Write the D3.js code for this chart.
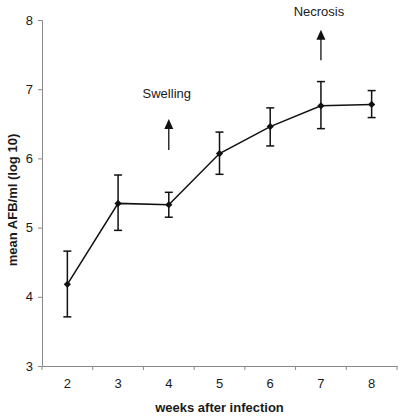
<!DOCTYPE html>
<html><head><meta charset="utf-8">
<script src="https://cdn.jsdelivr.net/npm/d3@7"></script>
<style>
html,body{margin:0;padding:0;background:#fff;}
text{font-family:"Liberation Sans",Arial,sans-serif;fill:#1a1a1a;}
</style></head>
<body><svg id="c" width="405" height="418"></svg>
<script>
const weeks = ["2","3","4","5","6","7","8"];
const meanValues = [4.18, 5.35, 5.33, 6.07, 6.46, 6.76, 6.78];
const upperValues = [4.66, 5.76, 5.51, 6.38, 6.73, 7.11, 6.98];
const lowerValues = [3.71, 4.96, 5.15, 5.77, 6.18, 6.43, 6.59];
const yTicks = [3, 4, 5, 6, 7, 8];
const annotations = [
  {label: "Swelling", week: "4", tip: 6.57, base: 6.12, textY: 6.87},
  {label: "Necrosis", week: "7", tip: 7.86, base: 7.42, textY: 8.06}
];

const svg = d3.select("#c");
const x = d3.scaleBand().domain(weeks).range([42, 397]).padding(0);
const y = d3.scaleLinear().domain([3, 8]).range([366, 20]);
const axisColor = "#8a8a8a";

// y axis
const ya = svg.append("g").attr("transform", "translate(42,0)")
  .call(d3.axisLeft(y).tickValues(yTicks).tickSize(4).tickPadding(5).tickFormat(d3.format("d")));
ya.select(".domain").attr("stroke", axisColor);
ya.selectAll(".tick line").attr("stroke", axisColor);
ya.selectAll("text").style("font-size", "13px").attr("fill", "#1a1a1a");

// x axis
const xa = svg.append("g").attr("transform", "translate(0,366)")
  .call(d3.axisBottom(x).tickSize(0).tickPadding(13));
xa.select(".domain").attr("stroke", axisColor);
xa.selectAll("text").style("font-size", "13px").attr("fill", "#1a1a1a");
// boundary ticks
const bounds = weeks.map(w => x(w) + x.bandwidth()).concat([x(weeks[0])]);
xa.selectAll(".btick").data(bounds).enter().append("line")
  .attr("x1", d => d).attr("x2", d => d).attr("y1", 0).attr("y2", 4)
  .attr("stroke", axisColor);

const cx = w => x(w) + x.bandwidth() / 2;

// line
const pts = weeks.map((w, i) => [cx(w), y(meanValues[i])]);
svg.append("path").attr("d", d3.line()(pts)).attr("fill", "none")
  .attr("stroke", "#111").attr("stroke-width", 1.5);

// error bars
const eb = svg.append("g").attr("stroke", "#111").attr("stroke-width", 1.5);
weeks.forEach((w, i) => {
  const c = cx(w);
  eb.append("line").attr("x1", c).attr("x2", c).attr("y1", y(upperValues[i])).attr("y2", y(lowerValues[i]));
  eb.append("line").attr("x1", c - 4).attr("x2", c + 4).attr("y1", y(upperValues[i])).attr("y2", y(upperValues[i]));
  eb.append("line").attr("x1", c - 4).attr("x2", c + 4).attr("y1", y(lowerValues[i])).attr("y2", y(lowerValues[i]));
});

// markers (square diamonds)
svg.append("g").selectAll("path").data(pts).enter().append("path")
  .attr("d", d3.symbol().type(d3.symbolSquare).size(26))
  .attr("transform", d => `translate(${d[0]},${d[1]}) rotate(45)`)
  .attr("fill", "#111");

// annotations
annotations.forEach(a => {
  const c = cx(a.week);
  const tip = y(a.tip), base = y(a.base);
  svg.append("line").attr("x1", c).attr("x2", c).attr("y1", tip + 8).attr("y2", base)
    .attr("stroke", "#111").attr("stroke-width", 1.3);
  svg.append("path").attr("d", `M${c},${tip} L${c - 4.5},${tip + 10} L${c + 4.5},${tip + 10} Z`).attr("fill", "#111");
  svg.append("text").attr("x", c - 2).attr("y", y(a.textY)).attr("text-anchor", "middle")
    .style("font-size", "13px").text(a.label);
});

// axis titles
svg.append("text").attr("x", 219.5).attr("y", 412).attr("text-anchor", "middle")
  .style("font-size", "13px").style("font-weight", "bold").text("weeks after infection");
svg.append("text").attr("transform", "translate(17,200) rotate(-90)").attr("text-anchor", "middle")
  .style("font-size", "13px").style("font-weight", "bold").text("mean AFB/ml (log 10)");
</script></body></html>
